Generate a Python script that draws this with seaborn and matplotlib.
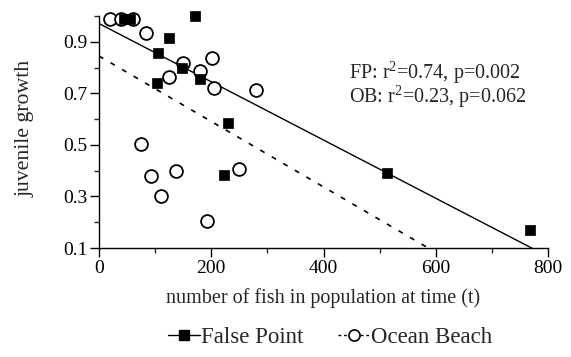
import numpy as np
import pandas as pd
import matplotlib
matplotlib.use("Agg")
import matplotlib.pyplot as plt
from matplotlib.lines import Line2D
from matplotlib.ticker import MultipleLocator
import seaborn as sns

# False Point (filled squares)
fp_fish = [45, 55, 171, 124, 105, 147, 180, 104, 230, 223, 514, 768]
fp_growth = [0.99, 0.99, 1.00, 0.915, 0.858, 0.799, 0.756, 0.739, 0.587, 0.385, 0.392, 0.168]

# Ocean Beach (open circles)
ob_fish = [20, 40, 60, 83, 150, 202, 180, 125, 204, 279, 75, 92, 138, 110, 192, 250]
ob_growth = [0.99, 0.99, 0.99, 0.936, 0.819, 0.837, 0.786, 0.765, 0.721, 0.714,
             0.502, 0.379, 0.398, 0.300, 0.203, 0.405]

# Regression lines: intercept, slope
fp_fit = [0.971, -0.00113]
ob_fit = [0.845, -0.00127]

stats_text = ["FP: r$^2$=0.74, p=0.002", "OB: r$^2$=0.23, p=0.062"]
x_label = "number of fish in population at time (t)"
y_label = "juvenile growth"
series_names = ["False Point", "Ocean Beach"]

sns.set_theme(style="ticks")
plt.rcParams["font.family"] = ["Liberation Serif", "DejaVu Serif"]
plt.rcParams["mathtext.default"] = "regular"

fig = plt.figure(figsize=(5.71, 3.57), dpi=100)
ax = fig.add_axes([0.1734, 0.3053, 0.7863, 0.6497])

fp = pd.DataFrame({"fish": fp_fish, "growth": fp_growth})
ob = pd.DataFrame({"fish": ob_fish, "growth": ob_growth})

xs = np.linspace(0, 800, 200)
fit_df = pd.DataFrame({
    "fish": np.concatenate([xs, xs]),
    "growth": np.concatenate([fp_fit[0] + fp_fit[1] * xs, ob_fit[0] + ob_fit[1] * xs]),
    "site": ["FP"] * len(xs) + ["OB"] * len(xs),
})
sns.lineplot(data=fit_df[fit_df.site == "FP"], x="fish", y="growth", ax=ax,
             color="black", lw=1.0, legend=False)
sns.lineplot(data=fit_df[fit_df.site == "OB"], x="fish", y="growth", ax=ax,
             color="black", lw=1.2, legend=False, dashes=False)
ax.lines[-1].set_dashes((3, 5))

sns.scatterplot(data=ob, x="fish", y="growth", ax=ax, marker="o", s=85,
                facecolor="white", edgecolor="black", linewidth=1.3,
                clip_on=False, zorder=3, legend=False)
sns.scatterplot(data=fp, x="fish", y="growth", ax=ax, marker="s", s=45,
                color="black", edgecolor="black", linewidth=0.5,
                clip_on=False, zorder=4, legend=False)

ax.set_xlim(0, 800)
ax.set_ylim(0.1, 1.0)
ax.xaxis.set_major_locator(MultipleLocator(200))
ax.xaxis.set_minor_locator(MultipleLocator(100))
ax.set_yticks([0.1, 0.3, 0.5, 0.7, 0.9])
ax.set_yticks([0.2, 0.4, 0.6, 0.8, 1.0], minor=True)
ax.tick_params(which="major", direction="out", length=6.5, width=1.0,
               labelsize=14, colors="black", pad=2)
ax.tick_params(which="minor", direction="out", length=3.5, width=1.0)
ax.set_xlabel(x_label, fontsize=14.5, labelpad=8)
ax.set_ylabel(y_label, fontsize=15.7, labelpad=20)
ax.yaxis.label.set_y(0.515)
for s in ["top", "right"]:
    ax.spines[s].set_visible(False)
for s in ["left", "bottom"]:
    ax.spines[s].set_linewidth(1.0)
    ax.spines[s].set_color("black")

fig.text(0.611, 0.78, stats_text[0], fontsize=14.5, va="baseline")
fig.text(0.611, 0.712, stats_text[1], fontsize=14.5, va="baseline")

handles = [
    Line2D([], [], color="black", lw=1.0, marker="s", markersize=7,
           markerfacecolor="black"),
    Line2D([], [], color="black", lw=1.0, ls=(0, (2, 2)), marker="o", markersize=8,
           markerfacecolor="white", markeredgewidth=1.2),
]
fig.legend(handles, series_names, loc="center", bbox_to_anchor=(0.578, 0.056),
           ncol=2, frameon=False, fontsize=16.5, handlelength=1.4,
           handletextpad=0.05, columnspacing=1.5)

fig.savefig("out.png", dpi=100, facecolor="white")
